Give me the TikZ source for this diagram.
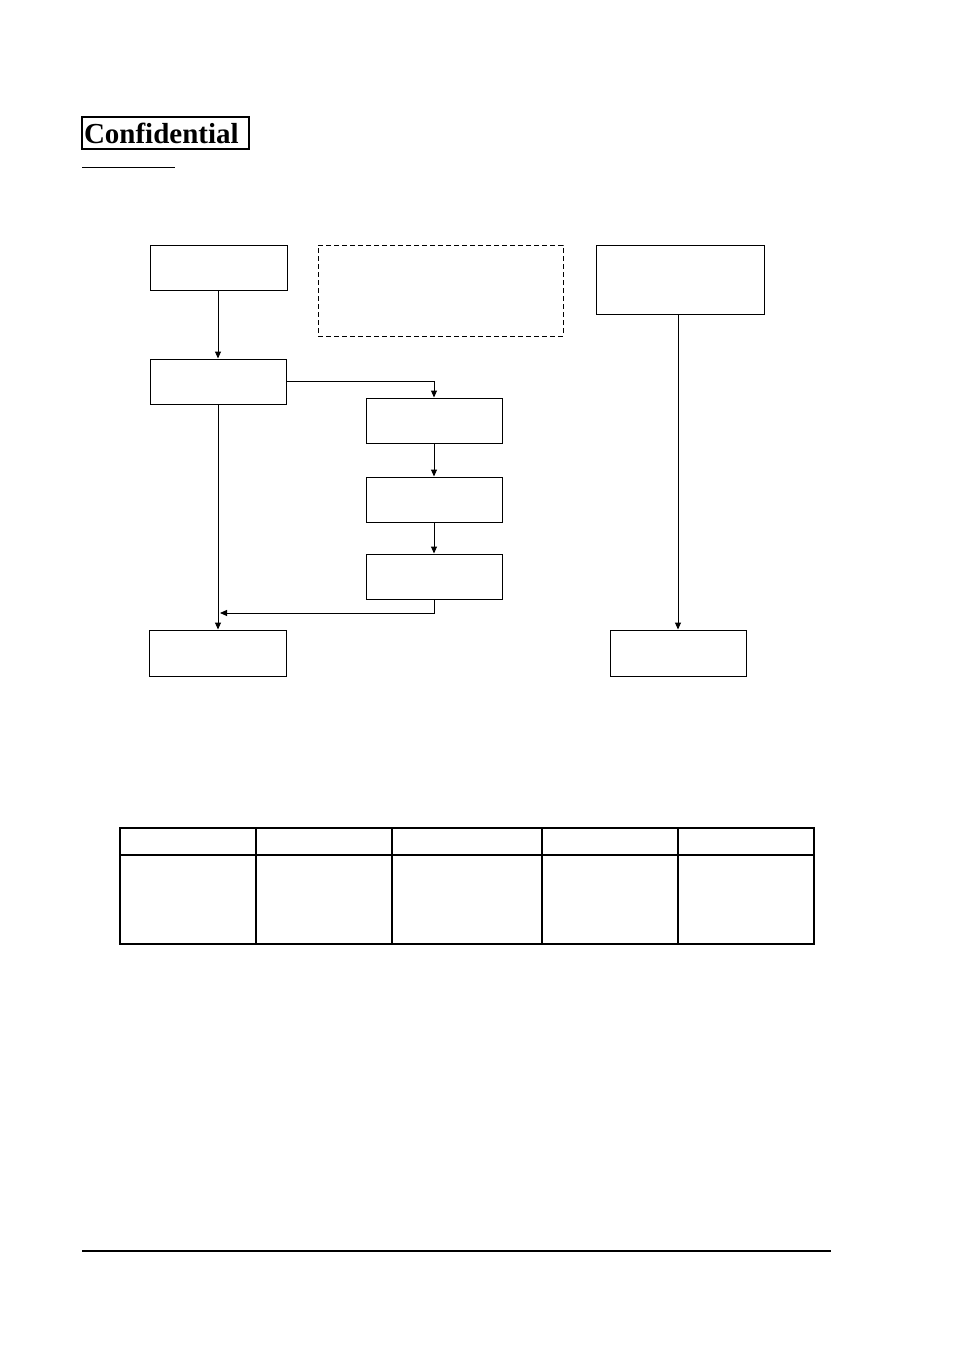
\documentclass[tikz,border=0pt]{standalone}
\usepackage{fontspec}
\setmainfont{Liberation Serif}
\usetikzlibrary{arrows.meta}

\begin{document}
\begin{tikzpicture}[
		x=1pt, y=-1pt,
		line width=1pt,
		every node/.style={rectangle, draw, inner sep=0pt, minimum width=136pt, minimum height=45pt},
		flow/.style={-{Triangle[length=7pt, width=6pt]}}
	]
  \useasboundingbox (0,0) rectangle (954,1351);
  \node (conf) [line width=1.3pt, minimum width=167pt, minimum height=32pt, text width=163pt, align=left, font=\bfseries\fontsize{29}{31}\selectfont] at (165.5,133) {Confidential};
  \coordinate (ul_a) at (82,168);
  \coordinate (ul_b) at (175,168);
  \draw (ul_a) -- (ul_b);
  \node (a_top) [minimum width=137pt] at (218.5,267.5) {};
  \node (note) [dash pattern=on 5pt off 3pt, minimum width=245pt, minimum height=91pt] at (440.5,290.5) {};
  \node (r_top) [minimum width=168pt, minimum height=69pt] at (680,279.5) {};
  \node (b_mid) at (218,381.5) {};
  \node (c_1) at (434,420.5) {};
  \node (c_2) at (434,499.5) {};
  \node (c_3) at (434,576.5) {};
  \node (l_end) [minimum width=137pt, minimum height=46pt] at (217.5,653) {};
  \node (r_end) [minimum height=46pt] at (678,653) {};
  \coordinate (join) at (220,613);
  \draw [flow] (b_mid.north |- a_top.south) -- (b_mid);
  \draw [flow] (b_mid.east) -| (c_1.north);
  \draw [flow] (c_1) -- (c_2);
  \draw [flow] (c_2) -- (c_3);
  \draw [flow] (c_3.south) |- (join);
  \draw [flow] (b_mid.south) -- (b_mid.south |- l_end.north);
  \draw [flow] (r_end.north |- r_top.south) -- (r_end.north);
  % table
  \draw [line width=1.3pt] (120,828) rectangle (814,944);
  \draw [line width=1.3pt] (120,855) -- (814,855);
  \foreach \x in {256,392,542,678}
    \draw [line width=1.3pt] (\x,828) -- (\x,944);
  \coordinate (foot_a) at (82,1251);
  \coordinate (foot_b) at (831,1251);
  \draw [line width=2pt] (foot_a) -- (foot_b);
\end{tikzpicture}
\end{document}
